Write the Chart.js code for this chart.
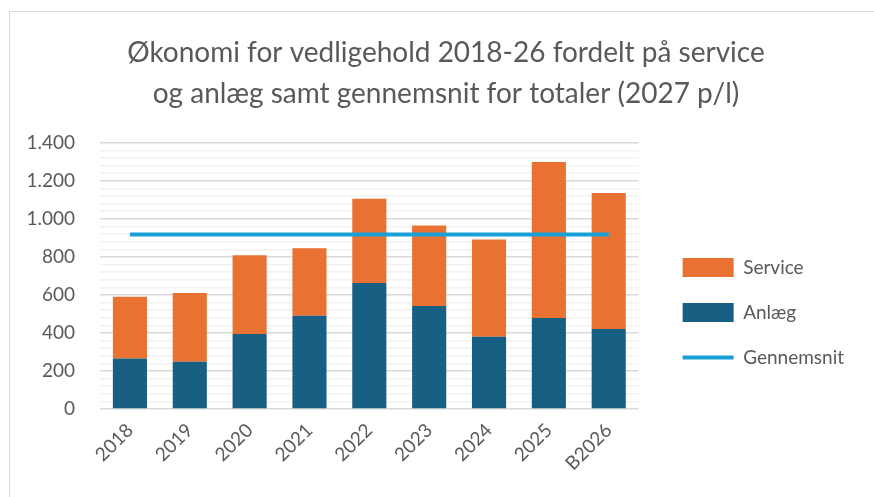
<!DOCTYPE html>
<html>
<head>
<meta charset="utf-8">
<script src="https://cdn.jsdelivr.net/npm/chart.js@4"></script>
<style>
  html, body { margin: 0; padding: 0; background: #fff; }
  #wrap { position: relative; width: 874px; height: 497px; overflow: hidden; }
  #frame { position: absolute; left: 9px; top: 11px; right: -5px; bottom: -5px;
           border-top: 1px solid #d9d9d9; border-left: 1px solid #d9d9d9; }
  #chart { position: absolute; left: 0; top: 0; }
</style>
</head>
<body>
<div id="wrap">
  <div id="frame"></div>
  <canvas id="chart" width="874" height="497"></canvas>
</div>
<script>
const years = ['2018', '2019', '2020', '2021', '2022', '2023', '2024', '2025', 'B2026'];
const anlaeg = [265, 249, 395, 490, 662, 542, 380, 479, 421];
const service = [325, 361, 413, 355, 444, 423, 512, 820, 715];
const gennemsnit = [918, 918, 918, 918, 918, 918, 918, 918, 918];
const titleLines = ['Økonomi for vedligehold 2018-26 fordelt på service',
                    'og anlæg samt gennemsnit for totaler (2027 p/l)'];

const textColor = '#595959';
const fontFamily = 'Lato, "Open Sans", sans-serif';

// nudge legend and title so they sit where the original puts them
const legendShiftX = 18;
const legendShiftY = 74;
const titleShiftX = 23;

function formatDk(v) {
    return String(v).replace(/\B(?=(\d{3})+(?!\d))/g, '.');
}

const boxNudge = {
    id: 'boxNudge',
    afterLayout(chart) {
        const lg = chart.legend;
        lg.left += legendShiftX; lg.right += legendShiftX;
        lg.top += legendShiftY; lg.bottom += legendShiftY;
        const tb = chart.titleBlock;
        tb.left += titleShiftX; tb.right += titleShiftX;
    }
};

const ctx = document.getElementById('chart').getContext('2d');
window.chart = new Chart(ctx, {
    data: {
        labels: years,
        datasets: [
            {
                type: 'line',
                label: 'Gennemsnit',
                data: gennemsnit,
                borderColor: '#1AA0D8',
                backgroundColor: '#1AA0D8',
                borderWidth: 4,
                pointRadius: 0,
                order: 0
            },
            {
                type: 'bar',
                label: 'Anlæg',
                data: anlaeg,
                backgroundColor: '#176083',
                stack: 's',
                order: 1,
                barPercentage: 0.57,
                categoryPercentage: 1
            },
            {
                type: 'bar',
                label: 'Service',
                data: service,
                backgroundColor: '#E97233',
                stack: 's',
                order: 1,
                barPercentage: 0.57,
                categoryPercentage: 1
            }
        ]
    },
    options: {
        responsive: false,
        animation: false,
        layout: { padding: { left: 10, right: 38, top: 0, bottom: 20 } },
        scales: {
            x: {
                stacked: true,
                grid: { display: false },
                border: { display: false },
                ticks: {
                    color: textColor,
                    font: { family: fontFamily, size: 19 },
                    minRotation: 45,
                    maxRotation: 45,
                    padding: 2
                }
            },
            y: {
                stacked: true,
                min: 0,
                max: 1400,
                border: { display: false },
                grid: {
                    drawTicks: false,
                    color: c => (c.tick.value % 200 === 0 ? '#d9d9d9' : '#f2f2f2'),
                    lineWidth: 1.5
                },
                ticks: {
                    stepSize: 40,
                    autoSkip: false,
                    padding: 25,
                    color: textColor,
                    font: { family: fontFamily, size: 19 },
                    callback: v => (v % 200 === 0 ? formatDk(v) : '')
                },
                afterFit: s => { s.width = 90; }
            }
        },
        plugins: {
            tooltip: { enabled: false },
            title: {
                display: true,
                text: titleLines,
                color: textColor,
                font: { family: fontFamily, size: 28, weight: 'normal', lineHeight: 1.46 },
                padding: { top: 33, bottom: 28 }
            },
            legend: {
                position: 'right',
                labels: {
                    color: textColor,
                    font: { family: fontFamily, size: 19 },
                    usePointStyle: true,
                    pointStyleWidth: 51,
                    boxHeight: 19,
                    padding: 26,
                    generateLabels: chart => {
                        const items = Chart.defaults.plugins.legend.labels.generateLabels(chart);
                        items.forEach(it => {
                            if (it.text === 'Gennemsnit') {
                                it.pointStyle = 'line';
                                it.lineWidth = 4;
                                it.strokeStyle = '#1AA0D8';
                            } else {
                                it.pointStyle = 'rect';
                                it.lineWidth = 0;
                            }
                        });
                        const order = ['Service', 'Anlæg', 'Gennemsnit'];
                        return order.map(n => items.find(it => it.text === n));
                    }
                }
            }
        }
    },
    plugins: [boxNudge]
});
</script>
</body>
</html>
